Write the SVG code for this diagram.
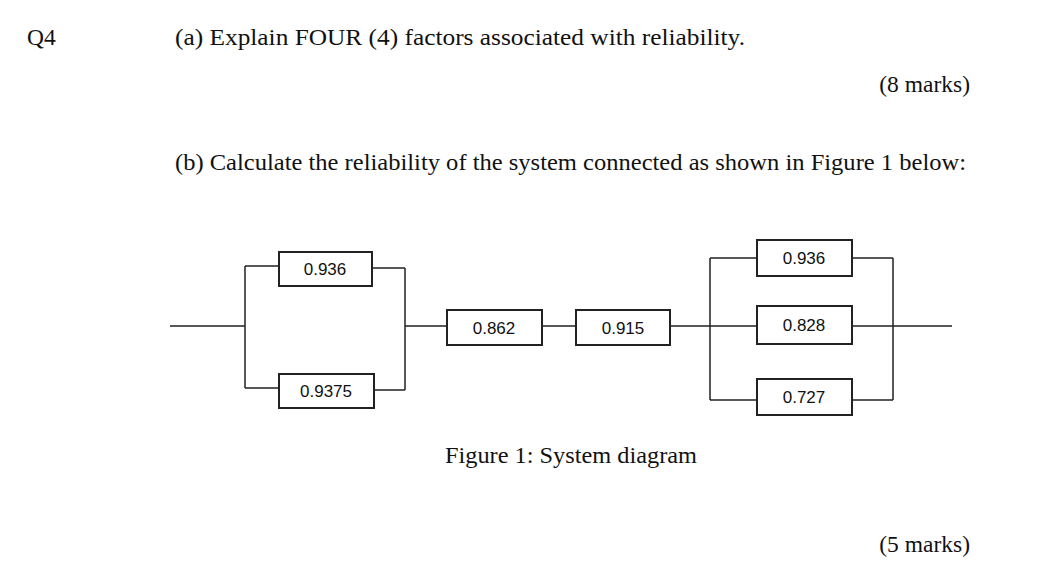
<svg xmlns="http://www.w3.org/2000/svg" width="1045" height="571" viewBox="0 0 1045 571">
<style>
.t{font-family:"Liberation Serif",serif;font-size:23.5px;fill:#111}
.b{fill:#fff;stroke:#222;stroke-width:2}
.l{font-family:"Liberation Sans",sans-serif;font-size:17px;fill:#111;text-anchor:middle}
.c{fill:none;stroke:#222;stroke-width:1.5}
</style>
<rect width="1045" height="571" fill="#fff"/>
<text class="t" x="27" y="45">Q4</text>
<text class="t" x="175" y="45" textLength="570" lengthAdjust="spacingAndGlyphs">(a)  Explain FOUR (4) factors associated with reliability.</text>
<text class="t" x="970" y="92" text-anchor="end">(8 marks)</text>
<text class="t" x="175" y="170" textLength="791" lengthAdjust="spacingAndGlyphs">(b)  Calculate the reliability of the system connected as shown in Figure 1 below:</text>
<text class="t" x="445" y="463" textLength="252" lengthAdjust="spacingAndGlyphs">Figure 1: System diagram</text>
<text class="t" x="970" y="552" text-anchor="end">(5 marks)</text>
<g id="connectors" class="c">
<path d="M170 326H245M245 266V388M245 266H279M245 388H279M372 268H405M374 390H405M405 268V390M405 326H447M542 326H576M670 326H710M710 258V400M710 258H757M710 326H757M710 400H757M852 258H893M852 326H893M852 400H893M893 258V400M893 326H952"/>
</g>
<g id="n1"><rect class="b" x="279" y="252" width="93" height="34"/><text class="l" x="325" y="275">0.936</text></g>
<g id="n2"><rect class="b" x="279" y="374" width="95" height="34"/><text class="l" x="326" y="397">0.9375</text></g>
<g id="n3"><rect class="b" x="447" y="310" width="95" height="35"/><text class="l" x="494" y="334">0.862</text></g>
<g id="n4"><rect class="b" x="576" y="310" width="94" height="35"/><text class="l" x="623" y="334">0.915</text></g>
<g id="n5"><rect class="b" x="757" y="240" width="95" height="36"/><text class="l" x="804" y="264">0.936</text></g>
<g id="n6"><rect class="b" x="757" y="306" width="95" height="38"/><text class="l" x="804" y="331">0.828</text></g>
<g id="n7"><rect class="b" x="757" y="379" width="95" height="36"/><text class="l" x="804" y="403">0.727</text></g>
</svg>
